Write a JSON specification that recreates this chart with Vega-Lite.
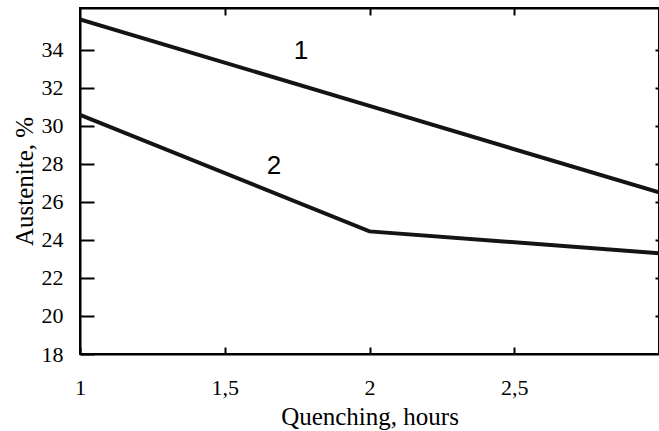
{
  "$schema": "https://vega.github.io/schema/vega-lite/v6.json",
  "autosize": {"type": "none"},
  "padding": {"left": 80, "top": 8, "right": 0, "bottom": 77},
  "width": 579,
  "height": 346,
  "background": "white",
  "config": {
    "view": {"stroke": "black", "strokeWidth": 2},
    "axis": {"grid": false}
  },
  "datasets": {
    "curves": [
      {"series": "1", "hours": 1, "austenite": 35.6},
      {"series": "1", "hours": 2, "austenite": 31.05},
      {"series": "1", "hours": 3, "austenite": 26.5},
      {"series": "2", "hours": 1, "austenite": 30.58},
      {"series": "2", "hours": 2, "austenite": 24.45},
      {"series": "2", "hours": 3, "austenite": 23.3}
    ],
    "labels": [
      {"text": "1", "hours": 1.763, "austenite": 33.95},
      {"text": "2", "hours": 1.67, "austenite": 27.9}
    ]
  },
  "resolve": {"axis": {"x": "independent", "y": "independent"}},
  "layer": [
    {
      "data": {"name": "curves"},
      "mark": {"type": "line", "strokeWidth": 4, "color": "#141414", "clip": true},
      "encoding": {
        "x": {
          "field": "hours", "type": "quantitative",
          "scale": {"domain": [1, 3], "nice": false, "zero": false},
          "axis": {
            "orient": "bottom", "title": "Quenching, hours",
            "values": [1, 1.5, 2, 2.5],
            "labelExpr": "replace(format(datum.value, '~g'), '.', ',')",
            "tickSize": -7, "tickWidth": 2, "tickColor": "black",
            "domainColor": "black", "domainWidth": 2,
            "labelFont": "Liberation Serif", "labelFontSize": 22, "labelColor": "black",
            "labelPadding": 30, "labelFlush": false,
            "titleFont": "Liberation Serif", "titleFontSize": 25, "titleFontWeight": "normal",
            "titleColor": "black", "titlePadding": 6
          }
        },
        "y": {
          "field": "austenite", "type": "quantitative",
          "scale": {"domain": [18, 36.2], "nice": false, "zero": false},
          "axis": {
            "orient": "left", "title": "Austenite, %",
            "values": [18, 20, 22, 24, 26, 28, 30, 32, 34],
            "tickSize": -14, "tickWidth": 2, "tickColor": "black",
            "domainColor": "black", "domainWidth": 2,
            "labelFont": "Liberation Serif", "labelFontSize": 22, "labelColor": "black",
            "labelPadding": 31, "labelFlush": false,
            "titleFont": "Liberation Serif", "titleFontSize": 25, "titleFontWeight": "normal",
            "titleColor": "black", "titlePadding": 4
          }
        },
        "detail": {"field": "series"}
      }
    },
    {
      "data": {"name": "labels"},
      "mark": {"type": "text", "font": "Liberation Sans", "fontSize": 26, "color": "black"},
      "encoding": {
        "x": {"field": "hours", "type": "quantitative", "axis": null},
        "y": {"field": "austenite", "type": "quantitative", "axis": null},
        "text": {"field": "text"}
      }
    },
    {
      "data": {"name": "curves"},
      "mark": {"type": "point", "opacity": 0},
      "encoding": {
        "x": {
          "field": "hours", "type": "quantitative",
          "axis": {
            "orient": "top", "title": null, "labels": false,
            "values": [1.5, 2, 2.5],
            "tickSize": -7, "tickWidth": 2, "tickColor": "black",
            "domainColor": "black", "domainWidth": 2
          }
        },
        "y": {
          "field": "austenite", "type": "quantitative",
          "axis": {
            "orient": "right", "title": null, "labels": false,
            "values": [20, 22, 24, 26, 28, 30, 32, 34],
            "tickSize": -4, "tickWidth": 2, "tickColor": "black",
            "domain": false
          }
        }
      }
    }
  ]
}
